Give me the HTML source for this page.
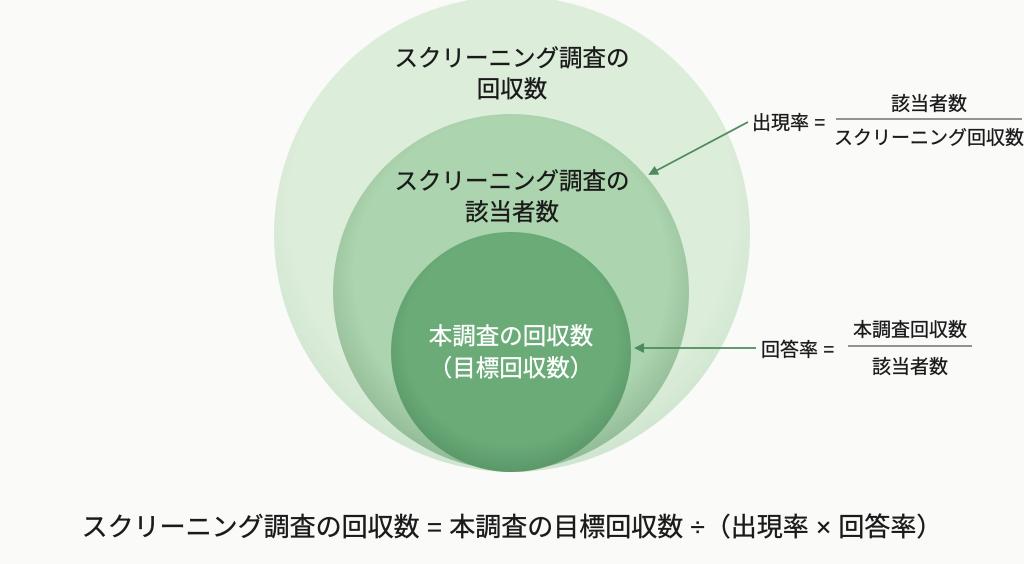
<!DOCTYPE html>
<html><head><meta charset="utf-8"><style>
body{margin:0;width:1024px;height:559px;background:#fafaf9;overflow:hidden;font-family:"Liberation Sans","Noto Sans CJK JP",sans-serif;}
svg text{font-family:"Liberation Sans","Noto Sans CJK JP",sans-serif;}
</style></head><body>
<svg width="1024" height="559" viewBox="0 0 1024 559">
<defs>
<radialGradient id="g1" cx="50%" cy="45%" r="55%"><stop offset="0.85" stop-color="#dcedda"/><stop offset="1" stop-color="#cfe5cf"/></radialGradient>
<radialGradient id="g2" cx="50%" cy="45%" r="55%"><stop offset="0.8" stop-color="#acd4ae"/><stop offset="1" stop-color="#92bb97"/></radialGradient>
<radialGradient id="g3" cx="50%" cy="45%" r="55%"><stop offset="0.8" stop-color="#6aab78"/><stop offset="1" stop-color="#5c9869"/></radialGradient>
<marker id="ah" markerWidth="10" markerHeight="10" refX="8" refY="5" orient="auto" markerUnits="userSpaceOnUse"><path d="M0,0 L10,5 L0,10 z" fill="#4f8a5d"/></marker>
</defs>
<circle cx="512" cy="234" r="238" fill="url(#g1)"/>
<circle cx="511" cy="292" r="178" fill="url(#g2)"/>
<circle cx="511" cy="352" r="120" fill="url(#g3)"/>
<g font-size="23.5" fill="#1a1a1a" stroke="#1a1a1a" stroke-width="0.35" text-anchor="middle">
<text x="512" y="66">スクリーニング調査の</text>
<text x="512" y="97">回収数</text>
<text x="512" y="189">スクリーニング調査の</text>
<text x="512" y="220">該当者数</text>
</g>
<g font-size="23.5" fill="#fff" stroke="#fff" stroke-width="0.3" text-anchor="middle">
<text x="511" y="344">本調査の回収数</text>
<text x="511" y="376">（目標回収数）</text>
</g>
<line x1="748" y1="122" x2="650" y2="174" stroke="#4f8a5d" stroke-width="1.8" marker-end="url(#ah)"/>
<line x1="756" y1="348" x2="636" y2="348" stroke="#4f8a5d" stroke-width="1.8" marker-end="url(#ah)"/>
<g font-size="19" fill="#1a1a1a" stroke="#1a1a1a" stroke-width="0.3">
<text x="752" y="129">出現率 =</text>
<text x="929" y="110" text-anchor="middle">該当者数</text>
<line x1="836" y1="119" x2="1022" y2="119" stroke="#555" stroke-width="1.2"/>
<text x="929" y="144" text-anchor="middle">スクリーニング回収数</text>
<text x="761" y="356">回答率 =</text>
<text x="910" y="336" text-anchor="middle">本調査回収数</text>
<line x1="848" y1="346" x2="972" y2="346" stroke="#555" stroke-width="1.2"/>
<text x="910" y="373" text-anchor="middle">該当者数</text>
</g>
<text x="512" y="536" font-size="26" fill="#1a1a1a" stroke="#1a1a1a" stroke-width="0.35" text-anchor="middle">スクリーニング調査の回収数 = 本調査の目標回収数 ÷（出現率 × 回答率）</text>
</svg>
</body></html>
